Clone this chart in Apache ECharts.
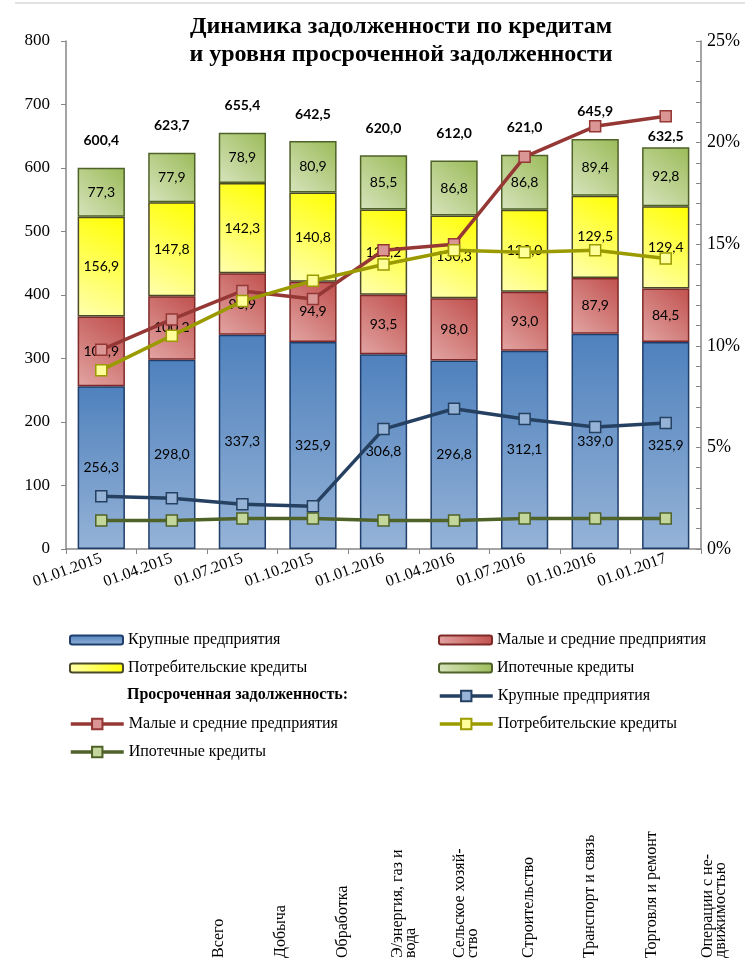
<!DOCTYPE html>
<html>
<head>
<meta charset="utf-8">
<script src="https://cdn.jsdelivr.net/npm/echarts@6/dist/echarts.min.js"></script>
<style>
html, body { margin: 0; padding: 0; background: #fff; }
#chart { width: 745px; height: 968px; }
</style>
</head>
<body>
<div id="chart"></div>
<script>
// dates on the x axis
var categories = ['01.01.2015', '01.04.2015', '01.07.2015', '01.10.2015', '01.01.2016',
                  '01.04.2016', '01.07.2016', '01.10.2016', '01.01.2017'];

// debt, stacked bars
var largeDebt    = [256.3, 298.0, 337.3, 325.9, 306.8, 296.8, 312.1, 339.0, 325.9];
var smallDebt    = [109.9, 100.2, 96.9, 94.9, 93.5, 98.0, 93.0, 87.9, 84.5];
var consumerDebt = [156.9, 147.8, 142.3, 140.8, 134.2, 130.3, 129.0, 129.5, 129.4];
var mortgageDebt = [77.3, 77.9, 78.9, 80.9, 85.5, 86.8, 86.8, 89.4, 92.8];
var totalDebt    = [600.4, 623.7, 655.4, 642.5, 620.0, 612.0, 621.0, 645.9, 632.5];

// overdue share, %
var overdueLarge    = [2.6, 2.5, 2.2, 2.1, 5.9, 6.9, 6.4, 6.0, 6.2];
var overdueSmall    = [9.8, 11.3, 12.7, 12.3, 14.7, 15.0, 19.3, 20.8, 21.3];
var overdueConsumer = [8.8, 10.5, 12.2, 13.2, 14.0, 14.7, 14.6, 14.7, 14.3];
var overdueMortgage = [1.4, 1.4, 1.5, 1.5, 1.4, 1.4, 1.5, 1.5, 1.5];

// leftover labels at the bottom of the sheet
var industries = ['Всего', 'Добыча', 'Обработка', 'Э/энергия, газ и\nвода', 'Сельское хозяй-\nство',
                  'Строительство', 'Транспорт и связь', 'Торговля и ремонт', 'Операции с не-\nдвижимостью'];

var SERIF = 'Liberation Serif';
var SANS = 'Lato';
var AXIS_GRAY = '#868686';

function fmt(v) {
    return v.toFixed(1).replace('.', ',');
}

function diag(dark, light) {
    return new echarts.graphic.LinearGradient(1, 0, 0, 1, [
        {offset: 0, color: dark},
        {offset: 1, color: light}
    ]);
}

var chart = echarts.init(document.getElementById('chart'));

function barSeries(name, data, fill, border) {
    return {
        name: name,
        type: 'bar',
        stack: 'debt',
        barCategoryGap: '33%',
        data: data,
        itemStyle: {color: fill, borderColor: border, borderWidth: 1.5},
        label: {
            show: true,
            position: 'inside',
            color: '#000',
            fontFamily: SANS,
            fontSize: 14,
            formatter: function (p) { return fmt(p.value); }
        }
    };
}

function lineSeries(name, data, lineColor, fill) {
    return {
        name: name,
        type: 'line',
        yAxisIndex: 1,
        data: data,
        z: 5,
        symbol: 'rect',
        symbolSize: 11,
        lineStyle: {color: lineColor, width: 3.5},
        itemStyle: {color: fill, borderColor: lineColor, borderWidth: 1.5}
    };
}

var series = [
    barSeries('Крупные предприятия', largeDebt,
        new echarts.graphic.LinearGradient(0, 0, 0, 1, [
            {offset: 0, color: '#4F81BD'},
            {offset: 1, color: '#95B3D7'}
        ]), '#1F3E6B'),
    barSeries('Малые и средние предприятия', smallDebt, diag('#C0504D', '#E2A5A3'), '#7F2A28'),
    barSeries('Потребительские кредиты', consumerDebt, diag('#FFFF00', '#FFFFB0'), '#4A4A2A'),
    barSeries('Ипотечные кредиты', mortgageDebt, diag('#9BBB59', '#D7E4BD'), '#4F6228'),
    lineSeries('Проср. Крупные предприятия', overdueLarge, '#254061', '#95B3D7'),
    lineSeries('Проср. Малые и средние предприятия', overdueSmall, '#953735', '#D99694'),
    lineSeries('Проср. Потребительские кредиты', overdueConsumer, '#9B9B00', '#FFFF99'),
    lineSeries('Проср. Ипотечные кредиты', overdueMortgage, '#4F6228', '#C3D69B'),
    {
        // totals above the bars
        name: 'Итого',
        type: 'line',
        data: totalDebt.map(function (v, i) {
            return i === totalDebt.length - 1 ? {value: v, label: {distance: 3}} : v;
        }),
        symbol: 'circle',
        symbolSize: 2,
        itemStyle: {color: 'transparent'},
        lineStyle: {opacity: 0},
        z: 6,
        label: {
            show: true,
            position: 'top',
            distance: 19,
            color: '#000',
            fontFamily: SANS,
            fontWeight: 'bold',
            fontSize: 14,
            formatter: function (p) { return fmt(p.value); }
        }
    }
];

var legendBase = {
    orient: 'vertical',
    selectedMode: false,
    padding: 0,
    itemWidth: 53,
    itemHeight: 9,
    itemGap: 10,
    textStyle: {fontFamily: SERIF, fontSize: 16, color: '#000', lineHeight: 18},
    formatter: function (n) { return n.replace(/^Проср\. /, ''); }
};

var lineLegend = Object.assign({}, legendBase, {itemHeight: 13, lineStyle: {width: 3.5}});

var option = {
    animation: false,
    backgroundColor: '#fff',
    title: {
        text: 'Динамика задолженности по кредитам\nи уровня просроченной задолженности',
        left: 396,
        top: 8,
        textAlign: 'center',
        textStyle: {fontFamily: SERIF, fontWeight: 'bold', fontSize: 24, lineHeight: 28, color: '#000'}
    },
    legend: [
        Object.assign({}, legendBase, {left: 69, top: 631,
            data: ['Крупные предприятия', 'Потребительские кредиты']}),
        Object.assign({}, legendBase, {left: 438, top: 631,
            data: ['Малые и средние предприятия', 'Ипотечные кредиты']}),
        Object.assign({}, lineLegend, {left: 438, top: 687,
            data: ['Проср. Крупные предприятия', 'Проср. Потребительские кредиты']}),
        Object.assign({}, lineLegend, {left: 69, top: 715,
            data: ['Проср. Малые и средние предприятия', 'Проср. Ипотечные кредиты']})
    ],
    graphic: [
        {type: 'line', shape: {x1: 15, y1: 3, x2: 745, y2: 3}, style: {stroke: '#d9d9d9', lineWidth: 1.5}},
        {type: 'text', left: 127, top: 687,
            style: {text: 'Просроченная задолженность:', font: 'bold 16px "Liberation Serif"', fill: '#000'}}
    ],
    grid: [
        {left: 66, right: 44, top: 41, bottom: 419},
        {left: 188, width: 563, top: 960, height: 1}
    ],
    xAxis: [
        {
            type: 'category',
            data: categories,
            axisLine: {lineStyle: {color: AXIS_GRAY, width: 1.5}},
            axisTick: {show: true, length: 5, lineStyle: {color: AXIS_GRAY}},
            axisLabel: {rotate: 20, margin: 9, interval: 0, fontFamily: SERIF, fontSize: 16, color: '#000'}
        },
        {
            type: 'category',
            gridIndex: 1,
            position: 'top',
            data: industries,
            axisLine: {show: false},
            axisTick: {show: false},
            axisLabel: {rotate: 90, margin: 2, interval: 0, fontFamily: SERIF, fontSize: 16, lineHeight: 13, color: '#000'}
        }
    ],
    yAxis: [
        {
            type: 'value',
            min: 0, max: 800, interval: 100,
            splitLine: {show: false},
            axisLine: {show: true, lineStyle: {color: AXIS_GRAY, width: 1.5}},
            axisTick: {show: true, length: 5, lineStyle: {color: AXIS_GRAY}},
            axisLabel: {margin: 16, fontFamily: SERIF, fontSize: 17, color: '#000'}
        },
        {
            type: 'value',
            position: 'right',
            min: 0, max: 25, interval: 5,
            splitLine: {show: false},
            axisLine: {show: true, lineStyle: {color: AXIS_GRAY, width: 1.5}},
            axisTick: {show: true, inside: true, length: 5, lineStyle: {color: AXIS_GRAY}},
            minorTick: {show: true, splitNumber: 5, length: 5, lineStyle: {color: AXIS_GRAY}},
            axisLabel: {margin: 6, fontFamily: SERIF, fontSize: 18, color: '#000', formatter: '{value}%'}
        },
        {type: 'value', gridIndex: 1, show: false}
    ],
    series: series
};

chart.setOption(option);
</script>
</body>
</html>
